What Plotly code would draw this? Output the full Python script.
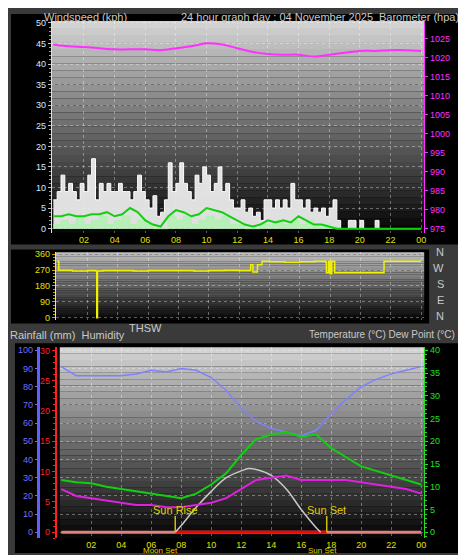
import numpy as np
import plotly.graph_objects as go

W, H = 466, 555

# ---- data ----
gust_hours = list(np.arange(0, 24.01, 0.25))
gust_kph = [7, 9, 13, 9, 11, 9, 7, 11,
            9, 13, 17, 7, 11, 9, 11, 9,
            9, 11, 9, 9, 7, 9, 13, 9,
            7, 5, 8, 3, 4, 7, 16, 9,
            11, 16, 11, 9, 7, 13, 11, 15,
            13, 9, 11, 15, 9, 11, 7, 5,
            5, 7, 4, 5, 3, 4, 2, 7,
            7, 5, 7, 5, 7, 5, 11, 7,
            7, 5, 7, 4, 5, 4, 5, 3,
            5, 7, 2, 0, 0, 2, 2, 0,
            2, 0, 0, 0, 2, 0, 0, 0,
            0, 0, 0, 0, 0, 0, 0, 0,
            0]
half_hours = list(np.arange(0, 24.01, 0.5))
avg_kph = [3, 3, 3.5, 3, 3, 3.5, 3.5, 4, 3, 3.5, 5, 4, 2, 1, 0.5, 3, 4.5, 4, 3, 3.5,
           5, 4.5, 4, 3, 2, 1, 0.5, 1, 2, 1.5, 2, 1.5, 3, 2, 1, 1, 0.5, 0,
           0, 0, 0, 0, 0, 0, 0, 0, 0, 0, 0]
speed_kph = [1, 2, 1, 3, 1, 2, 3, 1, 2, 3, 1, 2, 1, 0, 0, 3, 2, 3, 1, 2,
             3, 2, 3, 1, 1, 0, 0, 1, 1, 2, 1, 2, 1, 2, 1, 1, 0.5, 0,
             0, 0, 0, 0, 0, 0, 0, 0, 0, 0, 0]
hours = list(range(25))
baro_hpa = [1023.5, 1023, 1022.8, 1022.5, 1022.2, 1022.2, 1022.2, 1022, 1022.5, 1023, 1023.8,
            1023.5, 1022.5, 1021.5, 1021, 1020.8, 1020.8, 1020.3, 1020.8, 1021.3, 1021.8,
            1021.8, 1022, 1022, 1021.8]

dir_hours = [0, 0.1, 1, 2, 2.55, 2.6, 2.65, 3, 4, 5, 6, 7, 8, 9, 10, 11, 12, 12.7, 12.75, 12.9,
             13.2, 13.5, 14, 15, 16, 17, 17.7, 17.75, 17.9, 18, 18.1, 18.3, 18.5, 19, 20, 21,
             21.5, 21.55, 22, 23, 24]
dir_deg = [320, 270, 265, 268, 265, 0, 265, 268, 268, 265, 268, 268, 268, 265, 268, 270, 268,
           270, 300, 260, 300, 320, 318, 315, 318, 320, 315, 255, 320, 250, 320, 255, 255, 255,
           255, 255, 255, 320, 320, 320, 320]

humidity = [91, 86, 86, 86, 86, 87, 89, 88, 90, 89, 85, 78, 68, 61, 57, 55, 53, 56, 65, 73,
            80, 84, 87, 89, 91]
temperature = [11.5, 11, 10.8, 10, 9.5, 9, 8.5, 8, 7.5, 8.5, 10.5, 13, 17, 20.5, 21.5, 22, 21,
               21.5, 18.5, 16.5, 14.5, 13.5, 12.5, 11.5, 10.5]
dew_point = [9.5, 8, 7.5, 7, 6.5, 6, 6, 5.5, 5.5, 6, 6.5, 7.5, 9.5, 11.5, 12, 12.5, 11.5, 11.5,
             11.5, 11.5, 11, 10.5, 10, 9.5, 8.5]
solar_hours = [7.6, 8, 9, 10, 11, 12, 12.5, 13, 14, 15, 16, 17, 17.3]
solar = [0, 1.5, 5.5, 9, 12, 13.5, 14, 13.8, 12.5, 9.5, 5, 1, 0]
sunrise, sunset = 7.6, 17.7
x_ticks = [2, 4, 6, 8, 10, 12, 14, 16, 18, 20, 22, 24]
x_labels = ["02", "04", "06", "08", "10", "12", "14", "16", "18", "20", "22", "00"]

FONT = "Liberation Sans"


def px_x(p):
    return p / W


def px_y(p):
    return 1 - p / H


fig = go.Figure()

# panel 1: wind + barometer
fig.add_trace(go.Scatter(x=gust_hours, y=gust_kph, mode="lines", line=dict(color="#ffffff", width=1, shape="hv"),
                         fill="tozeroy", fillcolor="rgba(235,235,235,0.95)", xaxis="x", yaxis="y"))
fig.add_trace(go.Scatter(x=half_hours, y=speed_kph, mode="lines", line=dict(color="#b0f0b0", width=1, shape="hv"),
                         fill="tozeroy", fillcolor="rgba(180,240,180,0.9)", xaxis="x", yaxis="y"))
fig.add_trace(go.Scatter(x=half_hours, y=avg_kph, mode="lines", line=dict(color="#10d010", width=2),
                         xaxis="x", yaxis="y"))
fig.add_trace(go.Scatter(x=hours, y=baro_hpa, mode="lines", line=dict(color="#ff30ff", width=2, shape="spline"),
                         xaxis="x", yaxis="y2"))

# panel 2: wind direction
fig.add_trace(go.Scatter(x=dir_hours, y=dir_deg, mode="lines", line=dict(color="#f0f000", width=1.5, shape="hv"),
                         xaxis="x2", yaxis="y3"))

# panel 3: humidity, temperature, dew point, solar, rain
fig.add_trace(go.Scatter(x=hours, y=humidity, mode="lines", line=dict(color="#8080ff", width=1.5),
                         xaxis="x3", yaxis="y4"))
fig.add_trace(go.Scatter(x=[0, 24], y=[0, 0], mode="lines", line=dict(color="#e08080", width=3),
                         xaxis="x3", yaxis="y5"))
fig.add_trace(go.Scatter(x=[sunrise, sunset], y=[0, 0], mode="lines", line=dict(color="#ff0000", width=3),
                         xaxis="x3", yaxis="y5"))
fig.add_trace(go.Scatter(x=solar_hours, y=solar, mode="lines", line=dict(color="#c8c8c8", width=1.5, shape="spline"),
                         xaxis="x3", yaxis="y6"))
fig.add_trace(go.Scatter(x=hours, y=temperature, mode="lines", line=dict(color="#10d010", width=2),
                         xaxis="x3", yaxis="y6"))
fig.add_trace(go.Scatter(x=hours, y=dew_point, mode="lines", line=dict(color="#e020e0", width=2),
                         xaxis="x3", yaxis="y6"))
for h in (sunrise, sunset):
    fig.add_trace(go.Scatter(x=[h, h], y=[0, 3.6], mode="lines", line=dict(color="#d0c000", width=1.5),
                             xaxis="x3", yaxis="y6"))

shapes = []
# black panels
for x0, y0, x1, y1 in [(3, 3, 460, 236), (3, 241, 423, 316), (7, 336, 458, 548)]:
    shapes.append(dict(type="rect", xref="paper", yref="paper", x0=px_x(x0), x1=px_x(x1),
                       y0=px_y(y1), y1=px_y(y0), fillcolor="black", line=dict(width=0), layer="below"))
# gradient plot backgrounds
n = 30
for ax, top in [("x", 210), ("x2", 190), ("x3", 210)]:
    yax = {"x": "y", "x2": "y3", "x3": "y4"}[ax]
    for i in range(n):
        c = int(top - (top - 8) * i / (n - 1))
        shapes.append(dict(type="rect", xref=ax + " domain", yref=yax + " domain", x0=0, x1=1,
                           y0=1 - (i + 1) / n, y1=1 - i / n, fillcolor=f"rgb({c},{c},{c})",
                           line=dict(width=0), layer="below"))

grid = dict(showgrid=True, gridcolor="rgba(255,255,255,0.35)", griddash="dot", gridwidth=1)
xcommon = dict(range=[-0.1, 24.2], tickvals=x_ticks, ticktext=x_labels, tickfont=dict(color="#e0e000", size=9),
               zeroline=False, ticks="", **grid)

font_lbl = dict(family=FONT, size=11, color="#c8c8c8")
ann = [
    dict(text="Windspeed (kph)", x=px_x(34), y=px_y(-2), xanchor="left", yanchor="top"),
    dict(text="24 hour graph day : 04 November 2025", x=px_x(172), y=px_y(-2), xanchor="left", yanchor="top"),
    dict(text="Barometer (hpa)", x=px_x(371), y=px_y(-2), xanchor="left", yanchor="top"),
    dict(text="THSW", x=px_x(120), y=px_y(312), xanchor="left", yanchor="top"),
    dict(text="Rainfall (mm)  Humidity", x=px_x(0), y=px_y(319), xanchor="left", yanchor="top"),
    dict(text="Temperature (°C) Dew Point (°C)", x=px_x(300), y=px_y(319), xanchor="left", yanchor="top",
         font=dict(family=FONT, size=10, color="#c8c8c8")),
]
for a in ann:
    a.setdefault("font", font_lbl)
    a.update(xref="paper", yref="paper", showarrow=False)
for i, d in enumerate(["N", "W", "S", "E", "N"]):
    ann.append(dict(text=d, x=px_x(440), y=px_y(244 + i * 16), xref="paper", yref="paper", showarrow=False,
                    font=dict(family=FONT, size=11, color="#c8c8c8")))
yel = dict(family=FONT, size=11, color="#e0d000")
ann += [
    dict(text="Sun Rise", x=sunrise, y=5, xref="x3", yref="y6", showarrow=False, font=yel),
    dict(text="Sun Set", x=sunset, y=5, xref="x3", yref="y6", showarrow=False, font=yel),
    dict(text="Moon Set", x=6.6, y=px_y(552), xref="x3", yref="paper", showarrow=False,
         font=dict(family=FONT, size=8, color="#e0d000")),
    dict(text="Sun Set", x=17.4, y=px_y(552), xref="x3", yref="paper", showarrow=False,
         font=dict(family=FONT, size=8, color="#e0d000")),
]

fig.update_layout(
    width=W, height=H, margin=dict(l=0, r=0, t=0, b=0), showlegend=False,
    paper_bgcolor="#3a3a3a", plot_bgcolor="rgba(0,0,0,0)",
    font=dict(family=FONT, size=9),
    shapes=shapes, annotations=ann,
    xaxis=dict(domain=[px_x(44), px_x(418)], anchor="y", **xcommon),
    xaxis2=dict(domain=[px_x(48), px_x(418)], anchor="y3", showticklabels=False,
                **{k: v for k, v in xcommon.items() if k not in ("tickfont",)}),
    xaxis3=dict(domain=[px_x(52), px_x(418)], anchor="y4", **xcommon),
    yaxis=dict(domain=[px_y(224), px_y(10)], range=[-0.96, 50.5], dtick=5, tickfont=dict(color="#d8e8ff", size=9),
               ticks="outside", ticklen=3, tickcolor="#c0c0c0", minor=dict(dtick=1, ticks="outside", ticklen=2, tickcolor="#a0a0a0"),
               showline=True, linecolor="#e0e0e0", zeroline=False, **grid),
    yaxis2=dict(overlaying="y", side="right", anchor="x", range=[973.96, 1029.7], tickvals=list(range(975, 1030, 5)),
                tickfont=dict(color="#ff30ff", size=9), ticks="outside", ticklen=3, tickcolor="#ff30ff",
                showline=True, linecolor="#ff30ff", showgrid=False, zeroline=False),
    yaxis3=dict(domain=[px_y(312), px_y(244)], anchor="x2", range=[-11, 371], tickvals=[0, 90, 180, 270, 360],
                tickfont=dict(color="#e0e000", size=9), ticks="outside", ticklen=3, tickcolor="#c0a000",
                minor=dict(dtick=18, ticks="outside", ticklen=2, tickcolor="#c0a000"),
                showline=True, linecolor="#e0e0e0", zeroline=False, **grid),
    yaxis4=dict(domain=[px_y(533), px_y(340)], anchor="free", position=px_x(30), range=[-3.3, 101.6], dtick=10,
                tickfont=dict(color="#7070ff", size=9), ticks="outside", ticklen=2, tickcolor="#7070ff",
                showline=True, linecolor="#6060ff", linewidth=3, zeroline=False, **grid),
    yaxis5=dict(overlaying="y4", anchor="free", position=px_x(48), range=[-1, 30.5], dtick=5,
                tickfont=dict(color="#ff2020", size=9), ticks="outside", ticklen=3, tickcolor="#ff2020",
                minor=dict(dtick=1, ticks="outside", ticklen=2, tickcolor="#ff2020"),
                showline=True, linecolor="#ff2020", linewidth=2, showgrid=False, zeroline=False),
    yaxis6=dict(overlaying="y4", side="right", anchor="x3", range=[-1.3, 40.65], dtick=5,
                tickfont=dict(color="#20e020", size=9), ticks="outside", ticklen=3, tickcolor="#20e020",
                minor=dict(dtick=1, ticks="outside", ticklen=2, tickcolor="#20e020"),
                showline=True, linecolor="#20e020", showgrid=False, zeroline=False),
)

fig.write_html("out.html")
